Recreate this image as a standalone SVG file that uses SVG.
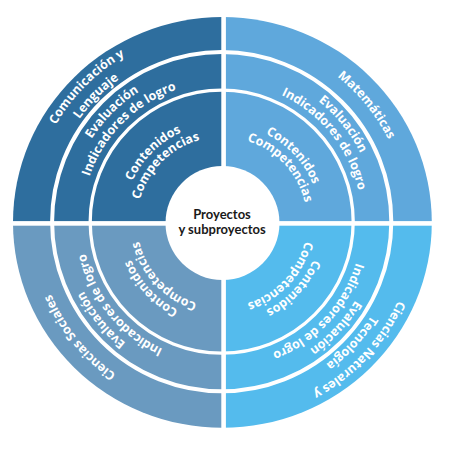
<svg xmlns="http://www.w3.org/2000/svg" xmlns:xlink="http://www.w3.org/1999/xlink" width="450" height="451" viewBox="0 0 450 451">
<style>
.t{font-family:"Open Sans",Lato,"DejaVu Sans",sans-serif;font-weight:700;font-size:12.5px;fill:#ffffff;text-anchor:middle}
.c{font-family:Lato,"Open Sans","DejaVu Sans",sans-serif;font-weight:700;font-size:13px;fill:#1a1a1a;text-anchor:middle}
.gap{fill:none;stroke:#ffffff}
</style>
<defs>
<path id="r1925" d="M222,414.5 A192.5,192.5 0 1 1 222,29.5 A192.5,192.5 0 1 1 222,414.5"/>
<path id="r1855" d="M222,407.5 A185.5,185.5 0 1 1 222,36.5 A185.5,185.5 0 1 1 222,407.5"/>
<path id="r176" d="M222,398 A176,176 0 1 1 222,46 A176,176 0 1 1 222,398"/>
<path id="r1545" d="M222,376.5 A154.5,154.5 0 1 1 222,67.5 A154.5,154.5 0 1 1 222,376.5"/>
<path id="r140" d="M222,362 A140,140 0 1 1 222,82 A140,140 0 1 1 222,362"/>
<path id="r985" d="M222,320.5 A98.5,98.5 0 1 1 222,123.5 A98.5,98.5 0 1 1 222,320.5"/>
<path id="r85" d="M222,307 A85,85 0 1 1 222,137 A85,85 0 1 1 222,307"/>
</defs>
<rect width="450" height="451" fill="#ffffff"/>

<g id="comunicacion">
<path d="M222.4,222.4 L13,222.4 A209.4,205.4 0 0 1 222.4,17 Z" fill="#2e6e9e"/>
</g>
<g id="matematicas">
<path d="M222.4,222.4 L222.4,17 A209.4,205.4 0 0 1 431.8,222.4 Z" fill="#5fa8dc"/>
</g>
<g id="ciencias-naturales">
<path d="M222.4,222.4 L431.8,222.4 A209.4,205.4 0 0 1 222.4,427.8 Z" fill="#54bbed"/>
</g>
<g id="ciencias-sociales">
<path d="M222.4,222.4 L222.4,427.8 A209.4,205.4 0 0 1 13,222.4 Z" fill="#6a9ac0"/>
</g>

<g id="separators">
<circle class="gap" cx="221.7" cy="221.7" r="169.6" stroke-width="4"/>
<circle class="gap" cx="221.7" cy="221.7" r="131.5" stroke-width="3.3"/>
<rect x="221.3" y="0" width="4.6" height="451" fill="#ffffff"/>
<rect x="0" y="221.1" width="450" height="4.6" fill="#ffffff"/>
</g>

<g id="comunicacion-text">
<text class="t"><textPath href="#r1925" xlink:href="#r1925" startOffset="37.5%">Comunicación y</textPath></text>
<text class="t"><textPath href="#r176" xlink:href="#r176" startOffset="37.5%">Lenguaje</textPath></text>
<text class="t"><textPath href="#r1545" xlink:href="#r1545" startOffset="37.5%">Evaluación</textPath></text>
<text class="t"><textPath href="#r140" xlink:href="#r140" startOffset="37.5%">Indicadores de logro</textPath></text>
<text class="t"><textPath href="#r985" xlink:href="#r985" startOffset="37.5%">Contenidos</textPath></text>
<text class="t"><textPath href="#r85" xlink:href="#r85" startOffset="37.5%">Competencias</textPath></text>
</g>
<g id="matematicas-text">
<text class="t"><textPath href="#r1855" xlink:href="#r1855" startOffset="64.17%">Matemáticas</textPath></text>
<text class="t"><textPath href="#r1545" xlink:href="#r1545" startOffset="64.17%">Evaluación</textPath></text>
<text class="t"><textPath href="#r140" xlink:href="#r140" startOffset="64.17%">Indicadores de logro</textPath></text>
<text class="t"><textPath href="#r985" xlink:href="#r985" startOffset="63.06%">Contenidos</textPath></text>
<text class="t"><textPath href="#r85" xlink:href="#r85" startOffset="63.06%">Competencias</textPath></text>
</g>
<g id="ciencias-naturales-text">
<text class="t"><textPath href="#r1925" xlink:href="#r1925" startOffset="86.94%">Ciencias Naturales y</textPath></text>
<text class="t"><textPath href="#r176" xlink:href="#r176" startOffset="86.94%">Tecnología</textPath></text>
<text class="t"><textPath href="#r1545" xlink:href="#r1545" startOffset="86.94%">Evaluación</textPath></text>
<text class="t"><textPath href="#r140" xlink:href="#r140" startOffset="86.94%">Indicadores de logro</textPath></text>
<text class="t"><textPath href="#r985" xlink:href="#r985" startOffset="86.94%">Contenidos</textPath></text>
<text class="t"><textPath href="#r85" xlink:href="#r85" startOffset="86.94%">Competencias</textPath></text>
</g>
<g id="ciencias-sociales-text">
<text class="t"><textPath href="#r1855" xlink:href="#r1855" startOffset="14.17%">Ciencias Sociales</textPath></text>
<text class="t"><textPath href="#r1545" xlink:href="#r1545" startOffset="14.17%">Evaluación</textPath></text>
<text class="t"><textPath href="#r140" xlink:href="#r140" startOffset="14.17%">Indicadores de logro</textPath></text>
<text class="t"><textPath href="#r985" xlink:href="#r985" startOffset="13.06%">Contenidos</textPath></text>
<text class="t"><textPath href="#r85" xlink:href="#r85" startOffset="13.06%">Competencias</textPath></text>
</g>

<g id="proyectos">
<circle cx="222.5" cy="223" r="57" fill="#ffffff"/>
<text class="c" x="222" y="219.3">Proyectos</text>
<text class="c" x="222" y="234">y subproyectos</text>
</g>
</svg>
